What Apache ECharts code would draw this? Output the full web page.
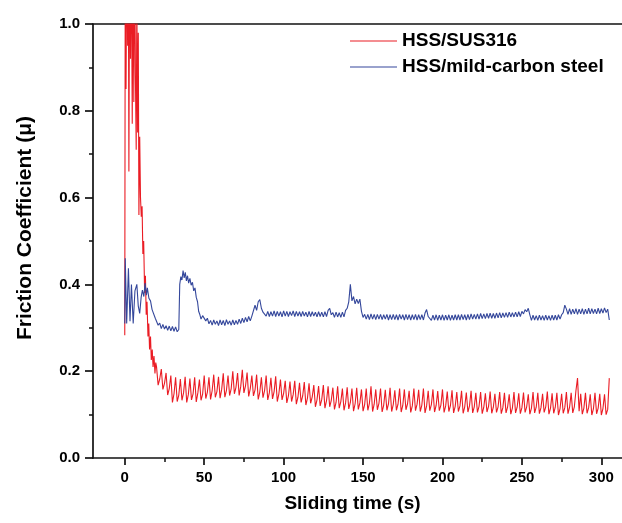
<!DOCTYPE html>
<html>
<head>
<meta charset="utf-8">
<script src="https://cdn.jsdelivr.net/npm/echarts@6/dist/echarts.min.js"></script>
<style>
html,body{margin:0;padding:0;background:#fff;}
#chart{width:622px;height:523px;}
</style>
</head>
<body>
<div id="chart"></div>
<script>
// ---- data ----
const seriesNames = ['HSS/SUS316', 'HSS/mild-carbon steel'];
const xTickValues = [0, 50, 100, 150, 200, 250, 300];
const xMinorTickValues = [25, 75, 125, 175, 225, 275];

// HSS/SUS316, run-in part: [sliding time (s), friction coefficient]
const redRunIn = [
 [0,0.283],[0.3,1.15],[0.8,0.85],[1.3,1.2],[1.8,0.95],[2.2,1.2],[2.6,0.66],[3.1,1.25],[3.6,0.92],
 [4.1,1.2],[4.7,0.77],[5.2,1.15],[5.7,0.82],[6.2,1.2],[6.7,0.88],[7.2,0.71],[7.6,1.05],[8.1,0.75],
 [8.5,0.98],[8.9,0.56],[9.4,0.74],[9.9,0.6],[10.4,0.556],[10.9,0.58],[11.4,0.47],[11.9,0.5],
 [12.5,0.38],[13,0.42],[13.5,0.33],[14,0.36],[14.6,0.28],[15.1,0.31],[15.6,0.25],[16.2,0.28],
 [16.7,0.226],[17.3,0.25],[17.8,0.21],[18.4,0.235],[19,0.195],[19.5,0.22]
];
// HSS/SUS316, steady part: one reading per second from 20 s
const redSteadyStart = 20;
const redSteadyMu = [
 0.21,0.168,0.182, 0.205,0.158,0.172, 0.196,0.145,0.16, 0.19,0.128,0.148, 0.186,0.13,0.145,
 0.182,0.133,0.15, 0.187,0.128,0.146, 0.183,0.134,0.148, 0.186,0.129,0.15, 0.181,0.133,0.147,
 0.19,0.137,0.152, 0.186,0.135,0.155, 0.192,0.14,0.153, 0.187,0.138,0.158, 0.195,0.14,0.156,
 0.19,0.144,0.16, 0.2,0.148,0.163, 0.196,0.144,0.165, 0.203,0.15,0.166, 0.197,0.142,0.16,
 0.19,0.143,0.157, 0.192,0.135,0.152, 0.186,0.139,0.155, 0.19,0.134,0.15, 0.185,0.136,0.153,
 0.188,0.13,0.148, 0.181,0.134,0.149, 0.178,0.127,0.143, 0.176,0.13,0.146, 0.178,0.124,0.14,
 0.173,0.128,0.143, 0.175,0.122,0.138, 0.172,0.126,0.141, 0.168,0.118,0.134, 0.166,0.12,0.135,
 0.168,0.115,0.132, 0.165,0.118,0.133, 0.162,0.112,0.128, 0.165,0.115,0.13, 0.16,0.11,0.127,
 0.163,0.113,0.128, 0.16,0.108,0.125, 0.162,0.112,0.127, 0.158,0.108,0.123, 0.16,0.11,0.126,
 0.165,0.107,0.124, 0.158,0.111,0.126, 0.16,0.106,0.122, 0.157,0.11,0.125, 0.162,0.107,0.123,
 0.156,0.11,0.124, 0.16,0.106,0.121, 0.158,0.111,0.125, 0.155,0.105,0.12, 0.16,0.109,0.124,
 0.157,0.107,0.122, 0.16,0.104,0.12, 0.155,0.109,0.123, 0.158,0.106,0.121, 0.154,0.109,0.122,
 0.158,0.105,0.12, 0.153,0.107,0.121, 0.156,0.104,0.119, 0.152,0.107,0.12, 0.155,0.103,0.118,
 0.151,0.106,0.12, 0.155,0.104,0.118, 0.15,0.105,0.119, 0.152,0.102,0.117, 0.149,0.106,0.119,
 0.153,0.103,0.117, 0.148,0.105,0.118, 0.152,0.102,0.116, 0.15,0.104,0.118, 0.147,0.101,0.115,
 0.152,0.104,0.117, 0.149,0.102,0.116, 0.151,0.105,0.118, 0.147,0.101,0.115, 0.152,0.104,0.117,
 0.15,0.102,0.116, 0.148,0.105,0.118, 0.153,0.101,0.115, 0.149,0.103,0.117, 0.15,0.099,0.114,
 0.148,0.103,0.116, 0.152,0.102,0.117, 0.15,0.104,0.118, 0.155,0.184,0.108, 0.148,0.101,0.115,
 0.15,0.103,0.116, 0.147,0.099,0.113, 0.15,0.102,0.115, 0.148,0.099,0.114, 0.147,0.1,0.112,
 0.184
];

// HSS/mild-carbon steel, run-in part: [sliding time (s), friction coefficient]
const blueRunIn = [
 [0,0.31],[0.3,0.46],[1.2,0.31],[2.3,0.437],[3.3,0.315],[4.2,0.4],[5.3,0.31],[6.4,0.385],[7.6,0.4],
 [8.5,0.35],[9.4,0.333],[10.3,0.37],[11.1,0.387],[12,0.372],[12.8,0.403],[13.6,0.375],[14.2,0.392],
 [15.2,0.368],[16.2,0.362],[17.2,0.342],[18.2,0.338],[19.2,0.322],[20.3,0.318],[21,0.306],[22,0.311],
 [23,0.298],[24,0.308],[25,0.297],[26,0.305],[27,0.294],[28,0.304],[29,0.293],[30,0.303],[31,0.292],
 [32,0.302],[33,0.291],[34,0.296],[34.6,0.4],[35.3,0.418],[36,0.41],[36.7,0.432],[37.4,0.415],
 [38.1,0.428],[38.8,0.408],[39.5,0.42],[40.2,0.403],[41,0.414],[41.8,0.398],[42.6,0.405],[43.4,0.385],
 [44.2,0.392],[45,0.37],[45.8,0.36],[46.5,0.338],[47.3,0.33],[48,0.32],[49,0.328]
];
// HSS/mild-carbon steel, steady part: one reading per second from 50 s
const blueSteadyStart = 50;
const blueSteadyMu = [
 0.326,0.316,0.322,0.309,0.317,0.306,0.318,0.308,0.316,0.305,
 0.318,0.307,0.317,0.305,0.319,0.308,0.316,0.306,0.318,0.307,
 0.317,0.308,0.32,0.31,0.322,0.312,0.324,0.314,0.326,0.316,
 0.327,0.33,0.352,0.34,0.36,0.365,0.345,0.336,0.338,0.327,
 0.338,0.326,0.337,0.327,0.339,0.326,0.338,0.327,0.337,0.325,
 0.339,0.327,0.338,0.326,0.337,0.328,0.339,0.326,0.338,0.327,
 0.337,0.326,0.338,0.327,0.336,0.325,0.338,0.326,0.337,0.327,
 0.336,0.325,0.337,0.326,0.336,0.325,0.337,0.326,0.34,0.345,
 0.33,0.335,0.324,0.336,0.325,0.335,0.324,0.336,0.325,0.34,
 0.345,0.36,0.40,0.362,0.372,0.355,0.366,0.356,0.366,0.338,
 0.324,0.331,0.32,0.331,0.319,0.332,0.32,0.331,0.319,0.331,
 0.32,0.331,0.319,0.33,0.32,0.331,0.318,0.33,0.319,0.331,
 0.319,0.33,0.318,0.331,0.32,0.33,0.318,0.331,0.319,0.33,
 0.318,0.33,0.319,0.331,0.318,0.33,0.319,0.33,0.318,0.334,
 0.342,0.326,0.329,0.317,0.329,0.318,0.33,0.317,0.329,0.318,
 0.33,0.317,0.329,0.318,0.33,0.317,0.329,0.318,0.33,0.318,
 0.33,0.318,0.331,0.319,0.33,0.318,0.331,0.319,0.332,0.32,
 0.331,0.32,0.332,0.32,0.333,0.321,0.332,0.321,0.333,0.322,
 0.334,0.322,0.333,0.322,0.334,0.323,0.335,0.323,0.334,0.324,
 0.335,0.324,0.336,0.325,0.335,0.325,0.336,0.325,0.337,0.326,
 0.338,0.332,0.342,0.337,0.345,0.33,0.317,0.329,0.318,0.328,
 0.317,0.329,0.318,0.328,0.317,0.329,0.318,0.328,0.317,0.329,
 0.318,0.329,0.318,0.33,0.32,0.33,0.335,0.352,0.343,0.331,
 0.344,0.331,0.343,0.332,0.344,0.331,0.343,0.332,0.344,0.331,
 0.343,0.332,0.345,0.332,0.344,0.333,0.343,0.332,0.345,0.333,
 0.344,0.334,0.346,0.335,0.343,0.318
];

// ---- chart ----
const FONT = '"Liberation Sans", Arial, Helvetica, sans-serif';
const AX = '#111';
const X_MIN = -20, X_MAX = 313;
const RED = '#ea1c24', BLUE = '#34479b';

const redData = redRunIn.concat(redSteadyMu.map((v, i) => [redSteadyStart + i, v]));
const blueData = blueRunIn.concat(blueSteadyMu.map((v, i) => [blueSteadyStart + i, v]));

const chart = echarts.init(document.getElementById('chart'), null, {renderer: 'canvas'});
chart.setOption({
  animation: false,
  backgroundColor: '#fff',
  grid: {left: 93, right: 0, top: 24, bottom: 65, containLabel: false},
  legend: {
    orient: 'vertical', left: 345, top: 26,
    icon: 'rect', itemWidth: 47, itemHeight: 1, itemGap: 6,
    data: seriesNames,
    textStyle: {fontFamily: FONT, fontWeight: 'bold', fontSize: 19, color: '#000', lineHeight: 20}
  },
  xAxis: [
    {
      type: 'value', min: X_MIN, max: X_MAX, position: 'bottom',
      axisLine: {show: true, onZero: false, lineStyle: {color: AX, width: 1.7}},
      axisTick: {show: true, inside: false, length: 7, lineStyle: {color: AX, width: 1.7}, customValues: xTickValues},
      axisLabel: {show: true, customValues: xTickValues, margin: 12,
        fontFamily: FONT, fontWeight: 'bold', fontSize: 15, color: '#000'},
      splitLine: {show: false},
      name: 'Sliding time (s)', nameLocation: 'middle', nameGap: 36,
      nameTextStyle: {fontFamily: FONT, fontWeight: 'bold', fontSize: 19, color: '#000', padding: [0, 10, 0, 0]}
    },
    {
      type: 'value', min: X_MIN, max: X_MAX, position: 'bottom',
      axisLine: {show: false},
      axisTick: {show: true, inside: false, length: 4, lineStyle: {color: AX, width: 1.5}, customValues: xMinorTickValues},
      axisLabel: {show: false},
      splitLine: {show: false}
    },
    {
      type: 'value', min: X_MIN, max: X_MAX, position: 'top',
      axisLine: {show: true, onZero: false, lineStyle: {color: AX, width: 1.7}},
      axisTick: {show: false}, axisLabel: {show: false}, splitLine: {show: false}
    }
  ],
  yAxis: {
    type: 'value', min: 0, max: 1, interval: 0.2,
    axisLine: {show: true, onZero: false, lineStyle: {color: AX, width: 1.7}},
    axisTick: {show: true, inside: false, length: 8, lineStyle: {color: AX, width: 1.7}},
    minorTick: {show: true, splitNumber: 2, length: 4, lineStyle: {color: AX, width: 1.5}},
    axisLabel: {margin: 13, fontFamily: FONT, fontWeight: 'bold', fontSize: 15, color: '#000',
      formatter: v => v.toFixed(1)},
    splitLine: {show: false},
    name: 'Friction Coefficient (\u03BC)', nameLocation: 'middle', nameGap: 57,
    nameTextStyle: {fontFamily: FONT, fontWeight: 'bold', fontSize: 21, color: '#000', padding: [0, 0, 0, 26]}
  },
  series: [
    {
      name: seriesNames[0], type: 'line', xAxisIndex: 0, symbol: 'none', clip: true,
      lineStyle: {color: RED, width: 1.1}, itemStyle: {color: RED},
      data: redData
    },
    {
      name: seriesNames[1], type: 'line', xAxisIndex: 0, symbol: 'none', clip: true,
      lineStyle: {color: BLUE, width: 1.1}, itemStyle: {color: BLUE},
      data: blueData
    }
  ]
});
</script>
</body>
</html>
